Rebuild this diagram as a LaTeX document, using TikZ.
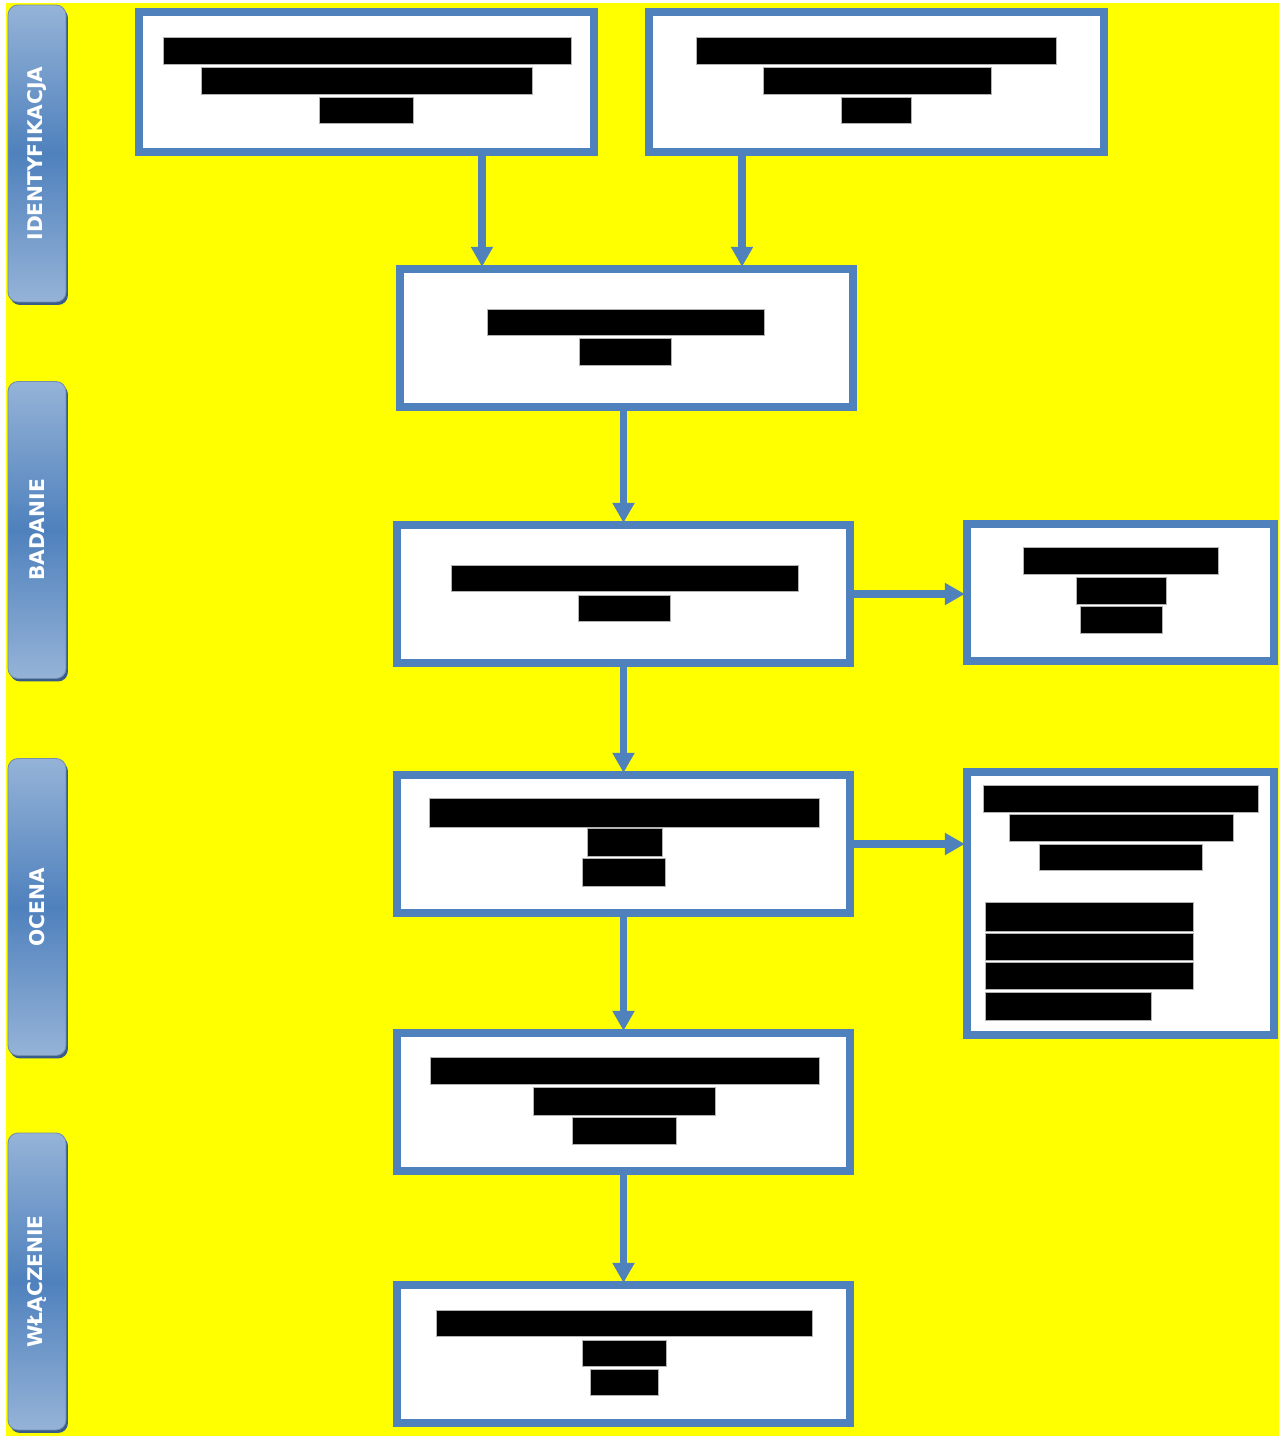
\documentclass[tikz,border=0pt]{standalone}
\usepackage{fontspec}
\newfontfamily\etapfont{DejaVu Sans}
\usetikzlibrary{arrows.meta,shadows}

\definecolor{ramka}{HTML}{4F81BD}
\definecolor{jasny}{HTML}{95B3D7}
\definecolor{cien}{HTML}{385D8A}
\definecolor{tlo}{HTML}{FFFF00}

\tikzset{
    krok/.style={rectangle, draw=ramka, line width=4.5pt, fill=white, inner sep=0pt},
    strzalka/.style={draw=ramka, line width=4.5pt, shorten >=-1pt, -{Triangle[length=0.4cm,width=0.42cm]}},
    etap/.style={rectangle, rounded corners=0.2cm, minimum width=1.16cm, minimum height=5.94cm,
        top color=jasny, bottom color=jasny, middle color=ramka, draw=cien!70, line width=0.5pt,
        drop shadow={shadow xshift=0.04cm, shadow yshift=-0.06cm, fill=cien, opacity=1},
        text=white, font=\etapfont\bfseries\fontsize{11.5}{12}\selectfont, inner sep=0pt}
}

\begin{document}
\begin{tikzpicture}[x=0.02cm, y=-0.02cm]
    \useasboundingbox (0,0) rectangle (1279,1439);
    \fill[white] (0,0) rectangle (1279,1439);
    \fill[tlo] (6,3) rectangle (1279,1436);

    % etapy
    \node[etap] (identyfikacja) at (37,153.5) {\rotatebox{90}{IDENTYFIKACJA}};
    \node[etap] (badanie) at (37,530) {\rotatebox{90}{BADANIE}};
    \node[etap] (ocena) at (37,907) {\rotatebox{90}{OCENA}};
    \node[etap] (wlaczenie) at (37,1281.5) {\rotatebox{90}{WŁĄCZENIE}};

    % kroki
    \node[krok, minimum width=9.10cm, minimum height=2.80cm] (zrodloA) at (366.5,82) {};
    \node[krok, minimum width=9.10cm, minimum height=2.80cm] (zrodloB) at (876.5,82) {};
    \node[krok, minimum width=9.06cm, minimum height=2.76cm] (wybor) at (626.5,338) {};
    \node[krok, minimum width=9.06cm, minimum height=2.76cm] (badanieK) at (623.5,594) {};
    \node[krok, minimum width=9.06cm, minimum height=2.76cm] (ocenaK) at (623.5,844) {};
    \node[krok, minimum width=9.06cm, minimum height=2.76cm] (decyzja) at (623.5,1102) {};
    \node[krok, minimum width=9.06cm, minimum height=2.76cm] (wlaczenieK) at (623.5,1354) {};
    \node[krok, minimum width=6.14cm, minimum height=2.74cm] (wynikA) at (1120.5,592.5) {};
    \node[krok, minimum width=6.14cm, minimum height=5.26cm] (wynikB) at (1120.5,903.5) {};

    % strzalki
    \draw[strzalka] ([xshift=2.31cm]zrodloA.south) coordinate (sA) -- (sA |- wybor.north);
    \draw[strzalka] ([xshift=-2.69cm]zrodloB.south) coordinate (sB) -- (sB |- wybor.north);
    \draw[strzalka] (wybor.south -| badanieK.north) -- (badanieK.north);
    \draw[strzalka] (badanieK) -- (ocenaK);
    \draw[strzalka] (ocenaK) -- (decyzja);
    \draw[strzalka] (decyzja) -- (wlaczenieK);
    \draw[strzalka] (badanieK.east) -- (badanieK.east -| wynikA.west);
    \draw[strzalka] (ocenaK.east) -- (ocenaK.east -| wynikB.west);

    % zaczernione teksty
    \foreach \xa/\ya/\xb/\yb in {163/37/571/64, 201/67/532/94, 319/97/413/123,
        696/37/1056/64, 763/67/991/94, 841/97/911/123,
        487/309/764/335, 579/338/671/365,
        451/565/798/591, 578/595/670/621,
        1023/547/1218/574, 1076/577/1166/604, 1080/606/1162/633,
        429/798/819/827, 587/828/662/856, 582/858/665/886,
        983/785/1258/812, 1009/814/1233/841, 1039/844/1202/870,
        985/902/1193/931, 985/933/1193/960, 985/962/1193/989, 985/992/1151/1020,
        430/1057/819/1084, 533/1087/715/1115, 572/1117/676/1144,
        436/1310/812/1336, 582/1340/666/1366, 590/1369/658/1395}
        \filldraw[fill=black, draw=gray!60, line width=0.3pt] (\xa,\ya) rectangle (\xb,\yb);
\end{tikzpicture}
\end{document}
